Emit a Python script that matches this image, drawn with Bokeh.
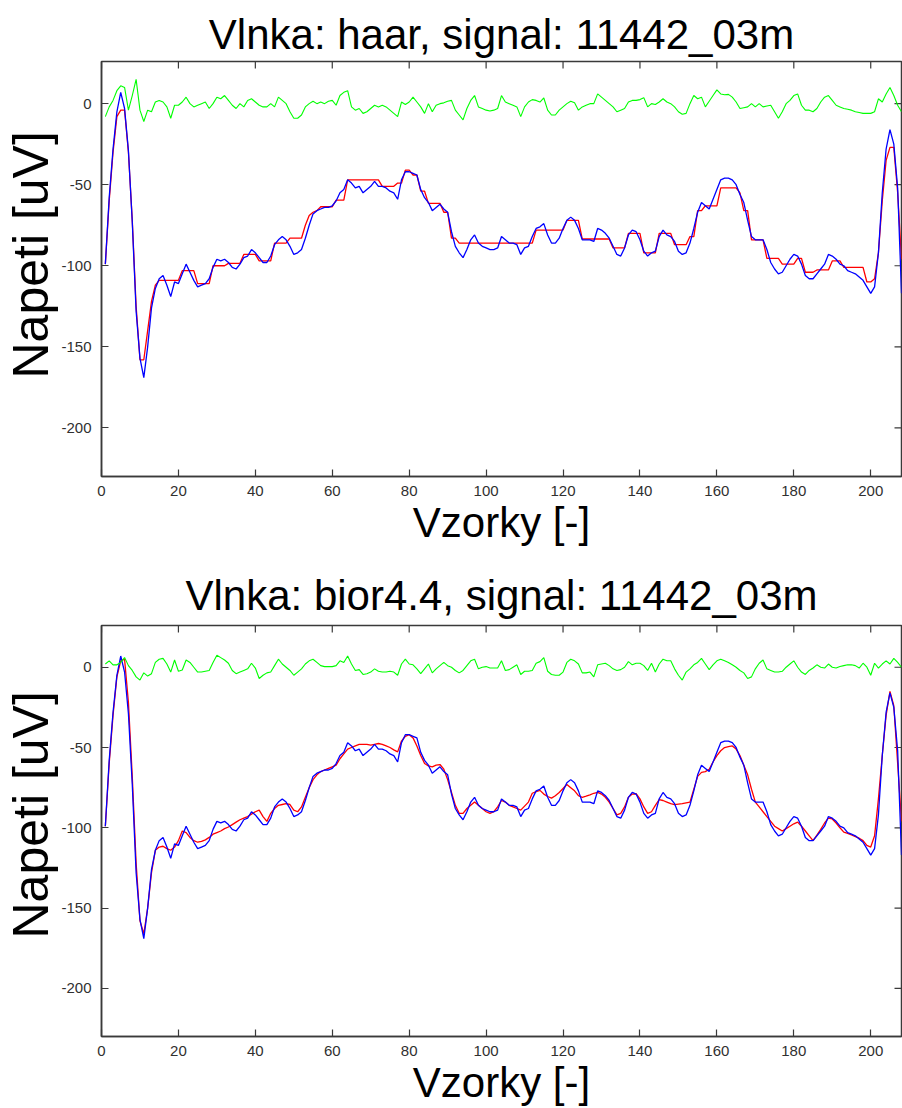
from bokeh.plotting import figure
from bokeh.layouts import column
from bokeh.models import SingleIntervalTicker, Range1d, PrintfTickFormatter, Title
from bokeh.embed import file_html
from bokeh.resources import INLINE

samples = list(range(1, 209))

signal = [
    -99, -58, -28, -5, 7, -3, -29, -73, -128, -157,
    -169, -150, -126, -114, -108, -106, -112, -119, -110, -111,
    -105, -99, -104, -109, -113, -112, -111, -108, -101, -96,
    -97, -96, -98, -101, -102, -99, -95, -94, -90, -92,
    -95, -98, -98, -94, -87, -84, -82, -84, -88, -93,
    -92, -90, -83, -75, -68, -66, -65, -64, -64, -63,
    -60, -55, -53, -47, -49, -52, -51, -55, -53, -51,
    -48, -51, -51, -52, -54, -55, -59, -47, -42, -42,
    -43, -44, -53, -58, -61, -66, -64, -62, -65, -67,
    -79, -88, -92, -95, -90, -84, -81, -86, -88, -89,
    -90, -90, -89, -82, -84, -86, -86, -87, -93, -89,
    -88, -82, -77, -76, -74, -81, -86, -86, -83, -77,
    -72, -70, -72, -77, -84, -84, -84, -85, -77, -78,
    -80, -83, -88, -93, -94, -89, -81, -78, -79, -84,
    -91, -94, -92, -91, -82, -78, -81, -82, -85, -91,
    -93, -92, -86, -77, -67, -61, -63, -65, -59, -53,
    -47, -46, -46, -47, -50, -56, -61, -72, -82, -84,
    -84, -84, -90, -98, -102, -105, -104, -100, -96, -93,
    -94, -99, -106, -108, -108, -105, -102, -99, -93, -94,
    -96, -99, -100, -103, -104, -105, -107, -109, -113, -117,
    -113, -92, -55, -28, -16, -25, -52, -117,
]

haar_approx = [
    -99, -60, -30, -8, -4, -4, -30, -72, -125, -158,
    -158, -140, -122, -112, -109, -109, -109, -109, -109, -109,
    -103, -103, -103, -103, -111, -111, -111, -111, -100, -100,
    -100, -100, -98.5, -98.5, -98.5, -98.5, -93, -93, -93, -93,
    -97, -97, -97, -97, -86, -86, -86, -86, -83, -83,
    -83, -83, -75, -69, -67, -66, -63.6, -63.6, -63.6, -63.6,
    -59.5, -59.5, -59.5, -47, -47, -47, -47, -47, -47, -47,
    -47, -47, -51, -51, -51, -51, -49, -49, -41, -41,
    -44, -44, -54, -54, -61.5, -61.5, -61.5, -61.5, -67, -67,
    -83, -83, -86, -86, -86, -86, -86, -86, -86, -86,
    -86, -86, -86, -86, -86, -86, -86, -86, -86, -86,
    -86, -86, -78, -78, -78, -78, -78, -78, -78, -78,
    -72, -72, -72, -72, -83.5, -83.5, -83.5, -83.5, -83.5, -83.5,
    -83.5, -83.5, -89, -89, -89, -89, -80, -80, -80, -80,
    -92, -92, -92, -92, -80, -80, -80, -80, -87, -87,
    -87, -87, -82, -82, -66, -66, -63, -63, -63, -63,
    -52, -52, -52, -52, -52, -55, -66, -66, -84, -84,
    -84, -84, -95.4, -95.4, -95.4, -95.4, -99, -99, -99, -99,
    -95.4, -95.4, -104, -104, -104, -102.6, -102.6, -102.6, -102.6, -97,
    -97, -97, -101, -101, -101, -101, -101, -101, -110, -110,
    -108, -92, -60, -35, -27, -27, -55, -96,
]

haar_diff = [
    -8, -2, 2, 8, 11, 10, -4, 5, 15, -4,
    -11, -4, -5, 1, 2, 1, -2, -9, -1, -1,
    1, 4, 0, -2, -1, 0, 1, -3, 0, 4,
    3, 5, 2, -1, -3, 0, -2, 2, 3, 1,
    -1, -2, -2, 0, -2, 4, 2, 0, -5, -9,
    -9, -7, -2, 0, 1.5, 0, 1, 0, 1.5, 2,
    -1, 5, 7, 8, -2, -4, -3, -6, -5, -3,
    -1, -2, -1, -2, -4, -6, -8, 1, -0.5, 1,
    4, 1, -2, -6, 0, -5, -1, 0, 0.5, 1.5,
    2, -4, -7, -10, -3, 2, 5, -2, -3, -4,
    -4.5, -4, -3, 5, 1, 0, -1, -2, -8, -2,
    1, 2.5, 2, 1, 3.5, -4, -7, -7, -4, -2,
    0, 1.5, 0.5, -4, -2, -1, 0, 0, 6, 4,
    2, 0, -2, -5, -4, -3, 1, 2, 2, 2.5,
    3.7, -2, 0, -0.5, 1, 3, 1, 0, -2, -5,
    -6.5, -6, 0, 5, 3, 4, -2, 1.5, 5, 8.5,
    6, 5.5, 5.7, 4, 1, -3, -2.5, -2, 0, -2,
    0, -2, -1.5, -1, -5, -9, -5, 0, 2, 5,
    6, -1, -4, -4, -5, -3, 1, 4, 5, 2,
    -1, -2, -3, -3.5, -4, -5, -5.5, -6, -6, -6,
    -5, 3, 1, 6, 10, 5, -1, -5,
]

bior_approx = [
    -99, -60, -30, -6, 4, 5, -22, -68, -122, -158,
    -166, -150, -128, -114, -112, -111.5, -113, -114, -112, -108,
    -102, -103, -106, -108, -109, -108.5, -107.5, -106, -104, -103,
    -102, -100.5, -99.5, -98, -96.5, -95, -94, -93, -91.5, -90,
    -89, -93, -96, -91, -88, -86, -85.5, -85, -85.5, -89,
    -90, -87, -81, -75, -70, -67, -65, -64, -63, -62,
    -61, -57, -54, -51, -50, -49, -48, -48, -48, -48.5,
    -48, -47.5, -48, -49, -50, -51.5, -52.7, -46, -43, -42,
    -44, -49, -55, -60, -61.5, -62, -61, -60.6, -63.5, -70,
    -78, -86, -91, -91, -88, -86, -84, -86, -88, -90,
    -91, -90, -87, -83, -84, -86, -87, -88, -89, -86.5,
    -84, -78.5, -77.5, -76.7, -79, -80.5, -81.5, -80, -78, -75.5,
    -73, -75, -77, -80, -81, -80.3, -79.5, -78.5, -78, -79,
    -81, -84, -88, -92, -91, -87, -81, -79, -78.8, -82,
    -87, -91, -90, -86, -82.5, -83, -84, -85, -85.6, -85.3,
    -85, -84.5, -84, -76, -68, -65.5, -65, -63.5, -59, -55,
    -52, -50, -49.5, -49, -51, -55, -61, -67, -76, -84,
    -87, -90, -93, -96, -99, -100.5, -102, -100.5, -99, -97.5,
    -96.5, -99, -102, -105, -108, -104.5, -101, -97, -94, -94.5,
    -97, -100, -102.7, -103.5, -104.5, -105.5, -106.5, -108, -111, -112,
    -105, -82, -55, -30, -15, -24, -60, -96,
]

bior_diff = [
    2, 4, 1.5, 1.5, 3, 6, 1, -2, -6, -8,
    -3.5, -5.5, -4, 3, 5, 5.5, 2, -3, 4.5, -2.5,
    -1.7, 4.5, 3, 0, -3, -3, -2.5, -2, 3, 7.5,
    6, 4.5, 2.5, -2, -4, -3, -2, -1, 2.5, -0.5,
    -7, -5, -3.5, -3, 1, 5, 2, 0, -2, -5,
    -3, -1, 2, 4, 5, 3, 1, 0.4, 0.4, 0.4,
    1, 4, 3, 7, 2, -2, -1.5, -4.5, -4, -3,
    -1, -2.5, -3, -3, -2.5, -3, -5, 2, 5, 2,
    1.5, -1, -4, -1, 2, -3.5, -1, 1, 3, 1,
    0, -2, -3.5, -2, 1, 4, 5, -1, 0, 0.4,
    -0.5, -0.5, -0.5, 4, -2, -1.5, 0, 1.5, -4.5, -2.5,
    -2.5, -2, 2.5, 3.5, 6, -2.5, -4.5, -5, -5, -3,
    3, 5, 4, 2, -3.5, -3.5, -3, -6, 1.5, 2,
    2.5, 1, -1, -2, -1.5, 0, 3.5, 1.5, 2.5, 2.5,
    1, -2, 2.5, -3, 2, 5, 4, 4, -1, -5,
    -8, -3, -1, 1.5, 3, 5.5, 2, -1.5, 1.5, 4,
    5, 4, 3, 1.5, 0, -2, -3.5, -7, -6, -1,
    2.5, 4.5, -1, -2, -3, -3, -2.5, 0, 2, 4,
    0, -3, -4.5, -2, -0.5, 1.5, 0, -0.5, 2, 0,
    -0.5, 0.5, 1, 1.5, 1.5, 1, -0.5, 2.5, 0, -5,
    2.5, -0.5, 2, 4, 2, 5.5, 3, 0,
]

x_ticks = [0, 20, 40, 60, 80, 100, 120, 140, 160, 180, 200]
y_ticks = [-200, -150, -100, -50, 0]
titles = ["Vlnka: haar, signal: 11442_03m", "Vlnka: bior4.4, signal: 11442_03m"]
x_label = "Vzorky [-]"
y_label = "Napeti [uV]"

FONT = "Liberation Sans"
AXC = "#3a3a3a"
X0, X1 = 0, 208
Y0, Y1 = -230, 26
W, H = 902, 554
BL, BR = 100, 1
TICK = 7


def make(title, approx, diff, top_b, bot_b, title_standoff):
    p = figure(width=W, height=H, output_backend="svg", toolbar_location=None,
               x_range=Range1d(X0, X1), y_range=Range1d(Y0, Y1),
               min_border_left=BL, min_border_right=BR,
               min_border_top=top_b, min_border_bottom=bot_b,
               x_axis_label=x_label)
    p.title.text = title
    p.title.align = "center"
    p.title.text_font = FONT
    p.title.text_font_size = "42px"
    p.title.text_font_style = "normal"
    p.title.text_color = "black"
    p.title.standoff = title_standoff
    p.grid.visible = False
    p.outline_line_color = AXC
    p.outline_line_width = 1.5
    p.outline_line_alpha = 1.0
    p.background_fill_color = "white"
    p.border_fill_color = "white"

    p.xaxis.ticker = SingleIntervalTicker(interval=20)
    p.yaxis.ticker = SingleIntervalTicker(interval=50)
    p.yaxis.formatter = PrintfTickFormatter(format="%d")
    p.xaxis.formatter = PrintfTickFormatter(format="%d")

    for ax in p.axis:
        ax.major_tick_in = TICK
        ax.major_tick_out = 0
        ax.minor_tick_line_color = None
        ax.axis_line_color = AXC
        ax.axis_line_width = 1.5
        ax.major_tick_line_color = AXC
        ax.major_tick_line_width = 1.2
        ax.major_label_text_font = FONT
        ax.major_label_text_font_size = "15px"
        ax.major_label_text_color = "#303030"
        ax.axis_label_text_font = FONT
        ax.axis_label_text_font_style = "normal"
        ax.axis_label_text_color = "black"
    p.xaxis.major_label_standoff = 5
    p.xaxis.axis_label_text_font_size = "42px"
    p.xaxis.axis_label_standoff = 0
    p.yaxis.major_label_standoff = 6

    fw = W - BL - BR
    fh = H - top_b - bot_b

    # y-axis title as a side title in the left margin (starts ~98 px above the frame bottom)
    p.add_layout(Title(text=y_label, align="left", offset=98, standoff=0,
                       text_font=FONT, text_font_size="50px", text_font_style="normal",
                       text_color="black"), "left")

    # inward tick marks on the top and right edges of the box
    dy = TICK * (Y1 - Y0) / fh
    dx = TICK * (X1 - X0) / fw
    p.segment(x0=x_ticks, x1=x_ticks, y0=[Y1] * len(x_ticks), y1=[Y1 - dy] * len(x_ticks),
              line_color=AXC, line_width=1.2)
    p.segment(x0=[X1] * len(y_ticks), x1=[X1 - dx] * len(y_ticks), y0=y_ticks, y1=y_ticks,
              line_color=AXC, line_width=1.2)

    p.line(samples, approx, line_color="#ff0000", line_width=1.3)
    p.line(samples, signal, line_color="#0000ff", line_width=1.3)
    p.line(samples, diff, line_color="#00ff00", line_width=1.1)
    return p


p1 = make(titles[0], haar_approx, haar_diff, 61, 78, 8)
p2 = make(titles[1], bior_approx, bior_diff, 71, 70, 13)
layout = column(p1, p2, spacing=0)

open("out.html", "w").write(file_html(layout, INLINE))
